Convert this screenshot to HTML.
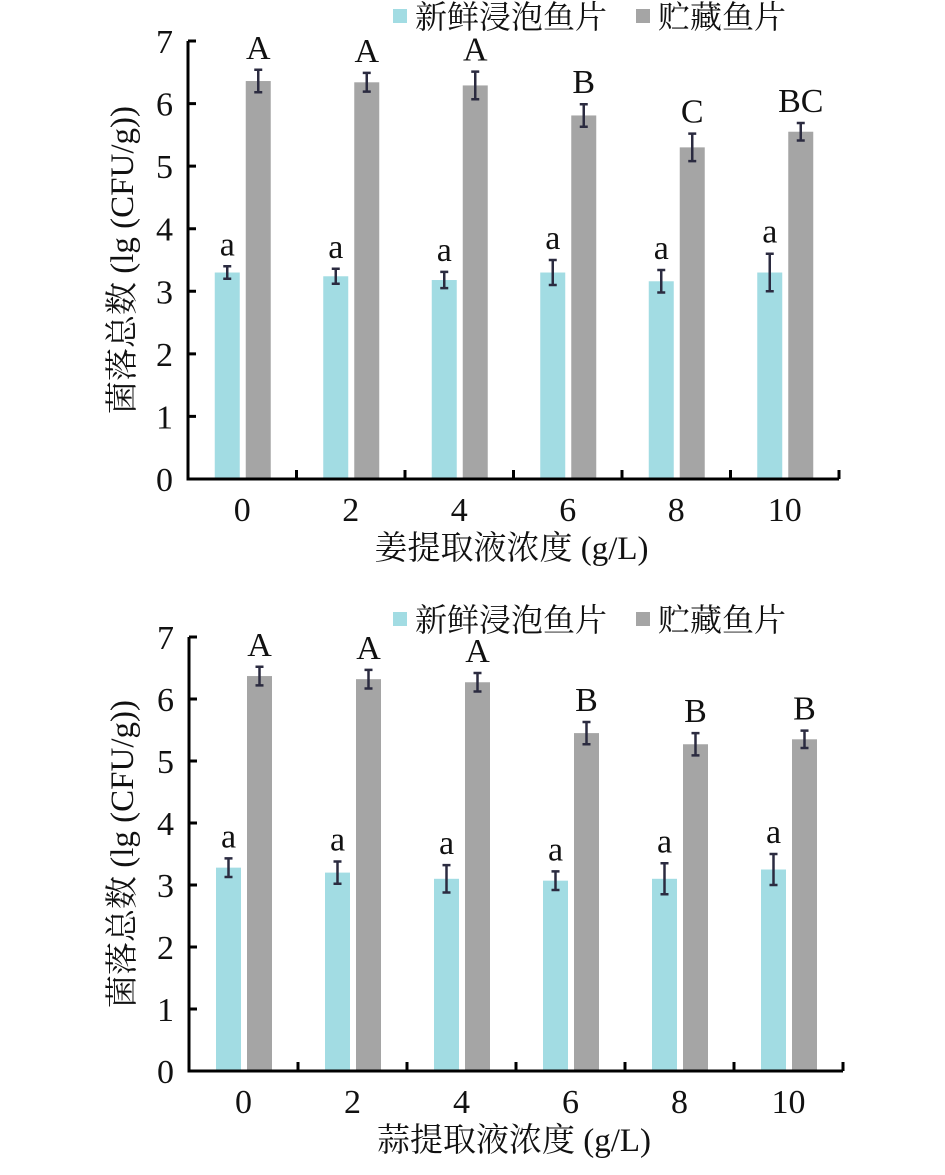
<!DOCTYPE html>
<html><head><meta charset="utf-8"><style>
body{margin:0;background:#fff}
svg text{font-family:"Liberation Serif","Noto Serif CJK SC",serif;fill:#111}
</style></head><body>
<svg id="s" width="945" height="1170"></svg>
<script>
const categories=["0","2","4","6","8","10"];
const yTicks=[0,1,2,3,4,5,6,7];
const gingerFresh=[3.3,3.24,3.18,3.3,3.16,3.3];
const gingerFreshErr=[0.1,0.12,0.13,0.2,0.18,0.3];
const gingerStored=[6.36,6.34,6.29,5.81,5.3,5.55];
const gingerStoredErr=[0.18,0.15,0.22,0.18,0.22,0.14];
const gingerFreshLetters=["a","a","a","a","a","a"];
const gingerStoredLetters=["A","A","A","B","C","BC"];
const garlicFresh=[3.28,3.2,3.1,3.07,3.1,3.25];
const garlicFreshErr=[0.15,0.18,0.22,0.15,0.25,0.25];
const garlicStored=[6.37,6.32,6.27,5.45,5.27,5.35];
const garlicStoredErr=[0.15,0.15,0.15,0.18,0.18,0.14];
const garlicFreshLetters=["a","a","a","a","a","a"];
const garlicStoredLetters=["A","A","A","B","B","B"];
const legendLabels=["新鲜浸泡鱼片","贮藏鱼片"];
const colors=["#a2dce3","#a5a5a5"];
const NS="http://www.w3.org/2000/svg";
const svg=document.getElementById('s');
function mk(t,a,p){const e=document.createElementNS(NS,t);for(const k in a)e.setAttribute(k,a[k]);(p||svg).appendChild(e);return e;}
function panel(name,y0,y7,xl,xr,fresh,fErr,stored,sErr,fL,sL,xtitle,legY){
  const g=mk('g',{});
  
  
  const ys=v=>y0-(y0-y7)*v/7;
  const bw=(xr-xl)/categories.length;
  const cx=i=>xl+bw*(i+0.5);
  const lg=mk('g',{},g);
  
  
  [[393,415],[636,658]].forEach((p,i)=>{
    const r=mk('rect',{x:p[0],y:legY-8,width:14,height:14,fill:colors[i]},lg);
    
    
    const t=mk('text',{x:p[1],y:legY+11,'font-size':32},lg);
    t.textContent=legendLabels[i];
    
    
  });
  categories.forEach((c,i)=>{
    [[fresh,fErr,fL,-15,0],[stored,sErr,sL,16,1]].forEach(s=>{
      const v=s[0][i],e=s[1][i],x=cx(i)+s[3];
      const b=mk('rect',{x:x-12.5,y:ys(v),width:25,height:y0-ys(v),fill:colors[s[4]]},g);
      
      
      const eg=mk('path',{d:`M${x},${ys(v+e)}V${ys(v-e)}M${x-4},${ys(v+e)}H${x+4}M${x-4},${ys(v-e)}H${x+4}`,stroke:'#2b2b40','stroke-width':2.5,fill:'none'},g);
      
      
      const t=mk('text',{x:x,y:ys(v+e)-11,'font-size':34,'text-anchor':'middle'},g);
      t.textContent=s[2][i];
      
      
    });
    const tl=mk('text',{x:cx(i),y:y0+42,'font-size':34,'text-anchor':'middle'},g);
    tl.textContent=c;
    
    
  });
  let d=`M${xl},${y7}V${y0}H${xr}`;
  yTicks.forEach(v=>{d+=`M${xl},${ys(v)}h8`;});
  for(let i=1;i<=categories.length;i++)d+=`M${xl+bw*i},${y0}v-9`;
  const ax=mk('path',{d:d,stroke:'#000','stroke-width':3,fill:'none'},g);
  
  
  yTicks.forEach(v=>{
    const t=mk('text',{x:xl-15,y:ys(v)+12,'font-size':34,'text-anchor':'end'},g);
    t.textContent=v;
    
    
  });
  const yt=mk('text',{transform:`translate(133,${(y0+y7)/2}) rotate(-90)`,'font-size':33,'text-anchor':'middle'},g);
  yt.textContent='菌落总数 (lg (CFU/g))';
  
  
  const xt=mk('text',{x:(xl+xr)/2-2,y:y0+80,'font-size':33,'text-anchor':'middle'},g);
  xt.textContent=xtitle;
  
  
}
panel('ginger-panel',479,41,188,839,gingerFresh,gingerFreshErr,gingerStored,gingerStoredErr,gingerFreshLetters,gingerStoredLetters,'姜提取液浓度 (g/L)',17);
panel('garlic-panel',1071,637,189,843,garlicFresh,garlicFreshErr,garlicStored,garlicStoredErr,garlicFreshLetters,garlicStoredLetters,'蒜提取液浓度 (g/L)',620);
</script>
</body></html>
